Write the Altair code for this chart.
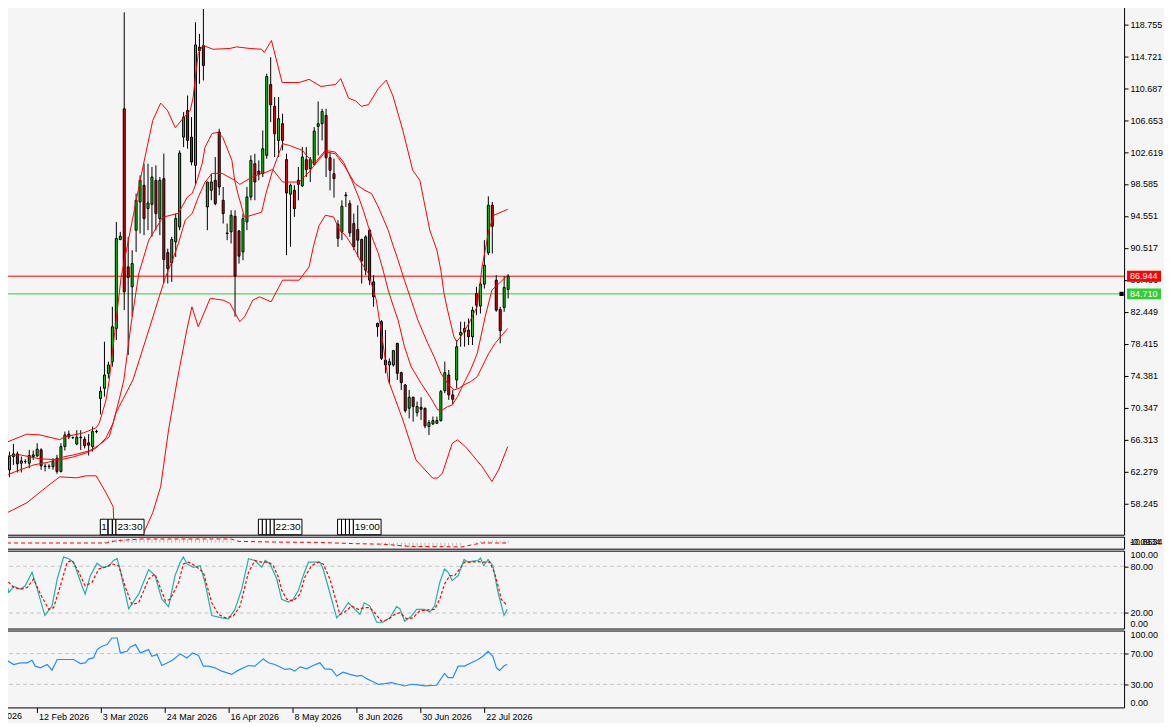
import altair as alt
import pandas as pd

FONT = "Liberation Sans"
BG = "#f5f5f5"
XDOM = [-0.625, 280.375]
W = 1124

# ---------------- candles (bar index 0..126) ----------------
opens = [62.49, 64.17, 64.51, 63.33, 63.54, 63.33, 64.17, 64.26, 65.01, 62.95,
         62.90, 62.90, 63.96, 62.28, 65.43, 67.00, 66.55, 65.75, 66.55, 66.36,
         65.90, 65.43, 67.35, 71.50, 72.79, 74.68, 76.15, 80.35, 91.57, 108.08,
         88.12, 85.60, 92.75, 96.32, 98.42, 95.48, 96.02, 99.05, 94.22, 99.26,
         89.93, 88.63, 91.28, 93.17, 104.51, 107.87, 104.51, 100.94, 115.86, 116.07,
         95.69, 97.79, 99.05, 105.14, 96.53, 92.40, 92.54, 94.51, 92.66, 90.01,
         93.80, 96.95, 101.15, 100.20, 99.89, 102.20, 111.15, 108.38, 104.09, 106.20,
         101.66, 97.29, 97.79, 99.05, 98.34, 101.66, 100.52, 101.07, 105.86, 106.20,
         107.25, 101.91, 99.89, 93.50, 92.54, 97.10, 96.11, 93.59, 92.83, 91.57,
         87.71, 92.75, 86.23, 80.98, 81.20, 76.36, 75.73, 75.73, 78.46, 74.76,
         73.21, 70.27, 71.65, 69.72, 70.40, 70.27, 67.95, 68.29, 68.37, 68.71,
         72.49, 74.47, 71.95, 73.84, 79.51, 79.93, 80.14, 79.30, 84.76, 83.17,
         85.94, 89.89, 95.90, 86.44, 82.74, 82.99, 85.27]
highs = [64.80, 65.77, 64.80, 64.17, 63.84, 65.01, 64.93, 65.85, 65.22, 63.30,
         63.20, 63.96, 64.38, 65.85, 67.32, 67.45, 66.70, 67.50, 67.50, 66.70,
         67.00, 67.95, 67.55, 73.00, 78.67, 76.15, 83.08, 93.80, 92.54, 120.27,
         91.91, 90.22, 97.37, 99.68, 101.15, 101.15, 100.73, 100.94, 99.47, 102.41,
         90.43, 91.91, 94.85, 102.83, 107.66, 109.76, 107.03, 119.01, 117.54, 120.69,
         98.84, 99.89, 101.99, 105.56, 98.21, 93.59, 95.27, 95.27, 92.75, 94.85,
         98.21, 102.20, 102.41, 101.57, 105.35, 112.50, 114.60, 109.56, 109.56, 107.46,
         102.41, 98.63, 98.42, 100.73, 103.25, 103.25, 101.99, 105.77, 109.01, 108.09,
         108.09, 102.62, 101.78, 94.01, 96.53, 97.58, 96.53, 94.85, 95.90, 91.70,
         92.12, 92.96, 87.07, 81.07, 81.40, 80.14, 76.57, 77.62, 78.54, 74.89,
         73.33, 72.58, 71.74, 71.11, 71.65, 70.35, 68.79, 69.22, 69.22, 72.58,
         76.15, 75.10, 72.58, 78.88, 81.19, 81.19, 81.61, 83.08, 85.60, 86.23,
         91.49, 97.03, 96.32, 87.07, 83.08, 86.95, 87.20]
lows = [61.57, 63.12, 62.16, 62.16, 63.25, 62.70, 63.75, 64.09, 62.49, 62.30,
        62.60, 62.50, 61.99, 62.16, 64.93, 66.36, 66.40, 65.60, 65.00, 65.20,
        64.30, 64.80, 67.10, 69.50, 71.74, 74.05, 75.52, 78.88, 91.49, 82.66,
        76.99, 81.82, 90.01, 92.33, 92.12, 92.75, 91.91, 92.75, 92.12, 86.02,
        86.02, 86.23, 89.38, 92.75, 103.25, 103.04, 100.94, 98.42, 111.24, 111.66,
        92.75, 96.53, 95.90, 97.16, 93.59, 91.49, 91.07, 81.82, 88.54, 88.96,
        92.75, 96.53, 96.53, 99.05, 99.47, 101.78, 106.40, 101.99, 101.99, 102.83,
        89.60, 90.65, 94.43, 96.53, 98.21, 99.47, 98.84, 100.94, 102.20, 104.09,
        99.47, 97.79, 96.87, 90.65, 91.49, 95.69, 91.91, 90.23, 89.39, 86.02,
        87.07, 85.82, 83.08, 79.30, 76.36, 74.68, 73.33, 75.52, 73.84, 72.58,
        69.72, 69.00, 68.58, 69.22, 68.79, 67.74, 66.90, 68.16, 68.37, 68.58,
        72.16, 71.32, 70.81, 72.79, 78.04, 78.04, 78.25, 78.25, 82.03, 82.24,
        85.39, 89.60, 89.81, 82.45, 78.46, 82.45, 84.13]
closes = [64.18, 64.51, 63.25, 63.63, 63.54, 64.30, 64.38, 65.10, 63.00, 62.90,
          62.95, 63.54, 62.28, 65.43, 66.90, 66.65, 66.55, 66.60, 66.60, 65.55,
          65.60, 67.32, 67.30, 72.40, 74.47, 75.73, 80.56, 91.70, 91.99, 84.97,
          86.78, 88.54, 96.53, 99.05, 94.22, 96.19, 99.47, 94.85, 99.05, 89.05,
          87.91, 91.57, 94.22, 102.49, 107.03, 104.09, 101.36, 116.15, 115.44, 113.55,
          98.84, 98.84, 96.11, 98.21, 94.85, 92.33, 94.64, 86.95, 89.47, 94.22,
          96.95, 101.57, 98.84, 99.80, 103.04, 112.16, 108.59, 104.93, 106.83, 104.09,
          97.45, 98.42, 95.48, 98.55, 101.99, 100.40, 101.66, 105.27, 106.20, 107.75,
          101.91, 100.31, 99.26, 91.70, 95.77, 97.20, 92.41, 90.65, 91.49, 88.88,
          91.91, 86.44, 84.34, 80.56, 76.57, 75.73, 76.15, 77.54, 74.68, 73.50,
          69.97, 71.65, 70.48, 70.48, 70.14, 68.04, 68.46, 68.71, 68.71, 72.37,
          74.76, 71.95, 71.40, 78.04, 79.84, 80.35, 79.30, 82.66, 83.29, 85.94,
          88.33, 95.90, 93.25, 82.66, 80.06, 85.52, 86.944]

# ---------------- price-panel lines (bar position, price) ----------------
upper_x = [-0.6, 4.4, 7.7, 12.7, 13.9, 18.7, 21.9, 22.7, 24.4, 25.2, 28.2, 31.2, 33.7, 36.2,
           38.2, 39.9, 41.9, 43.9, 45.7, 46.4, 46.9, 47.7, 48.9, 51.4, 55.7, 57.4, 60.7, 63.7,
           64.4, 66.2, 68.9, 73.2, 75.7, 78.7, 82.4, 83.7, 85.7, 87.4, 88.9, 90.7, 93.2, 95.2,
           96.9, 99.4, 101.9, 103.7, 106.2, 108.0, 109.0, 109.8, 110.7, 111.5, 112.3, 113.0,
           114.0, 114.8, 116.1, 117.3, 118.2, 119.4, 120.2, 121.1, 122.4, 125.9]
upper_p = [66.0, 67.0, 66.9, 66.3, 66.65, 67.16, 67.8, 68.4, 71.3, 73.8, 86.8, 94.4, 100.7, 106.6,
           108.8, 107.9, 105.7, 106.9, 107.9, 109.5, 111.7, 115.1, 116.1, 115.6, 115.7, 115.9, 115.7, 115.6,
           115.2, 116.7, 111.4, 111.4, 111.8, 110.9, 111.15, 111.9, 109.4, 109.1, 108.4, 108.6, 110.65, 111.7,
           109.7, 105.35, 100.3, 99.05, 92.75, 90.23, 87.70, 84.76, 82.66, 80.98, 79.30, 78.66,
           79.30, 79.93, 80.98, 82.24, 83.08, 88.08, 90.23, 92.75, 94.64, 95.39]

mid_x = [-0.6, 2.7, 6.2, 10.2, 13.7, 16.2, 20.2, 22.7, 25.2, 26.9, 31.2, 35.2, 39.4, 41.2, 42.7,
         44.4, 46.2, 47.7, 49.4, 51.2, 53.7, 56.9, 58.2, 61.2, 63.7, 64.8, 66.5, 69.0, 73.2, 75.7,
         77.7, 79.8, 82.3, 84.8, 87.3, 89.8, 91.5, 93.2, 95.7, 96.9, 98.2, 99.8, 101.5, 103.2,
         105.7, 107.3, 109.0, 110.7, 112.3, 113.6, 114.8, 116.5, 118.2, 121.1, 122.7, 125.9]
mid_p = [61.86, 62.49, 63.12, 63.50, 64.13, 64.38, 64.89, 65.64, 66.65, 69.68, 73.84, 80.14, 86.82, 88.96, 91.11,
         94.01, 94.89, 96.91, 98.80, 99.93, 99.93, 99.05, 98.54, 99.43, 99.93, 100.06, 100.44, 98.83, 98.83, 100.10,
         101.36, 102.62, 102.41, 100.73, 98.63, 97.79, 97.37, 95.68, 92.75, 90.86, 88.96, 86.44, 83.92, 81.40,
         78.46, 76.77, 74.68, 73.42, 72.58, 72.79, 73.21, 73.62, 74.25, 77.20, 78.46, 80.35]

fast_x = [-0.6, 2.7, 7.7, 12.7, 16.2, 19.4, 21.9, 24.4, 26.2, 27.7, 28.9, 30.7, 32.7, 35.2, 38.7,
          42.7, 44.9, 46.2, 47.4, 48.7, 49.4, 51.2, 52.7, 53.9, 56.2, 56.9, 57.7, 59.4, 63.7, 64.8,
          66.5, 69.0, 70.7, 74.0, 76.9, 77.7, 79.8, 82.3, 84.4, 86.5, 88.2, 89.4, 90.7, 91.9, 93.2,
          94.4, 95.7, 96.9, 98.2, 99.8, 101.5, 104.0, 106.5, 108.2, 109.4, 110.7, 111.9, 113.2,
          114.8, 116.5, 118.2, 120.2, 121.9, 125.9]
fast_p = [64.26, 64.38, 63.88, 63.75, 64.13, 64.63, 65.26, 66.53, 68.42, 71.32, 73.84, 80.77, 87.33, 91.49, 94.38,
          94.89, 96.91, 97.41, 99.05, 101.19, 103.21, 104.97, 105.10, 104.47, 101.57, 99.05, 97.41, 94.38, 95.02, 97.37,
          100.31, 103.68, 103.46, 102.83, 101.15, 101.57, 102.83, 102.62, 101.36, 99.05, 96.94, 95.27, 93.16, 91.49, 89.81,
          87.70, 85.18, 83.29, 81.40, 78.04, 75.51, 73.42, 71.53, 70.06, 70.06, 70.47, 70.69, 71.73,
          73.42, 75.10, 77.20, 81.82, 85.18, 87.07]

lower_x = [-0.6, 4.4, 9.4, 12.7, 16.9, 19.4, 21.9, 24.4, 26.2, 26.5, 28.5, 30.5, 32.5, 33.7, 36.2,
           38.2, 40.2, 42.4, 44.8, 46.1, 47.7, 50.7, 54.0, 55.7, 58.2, 59.4, 61.5, 63.2, 66.1, 69.0,
           73.2, 75.7, 76.9, 78.2, 79.8, 81.9, 83.2, 85.2, 87.3, 89.0, 90.7, 92.7, 94.0, 95.7, 99.4,
           102.7, 106.9, 108.2, 109.4, 111.9, 113.2, 115.2, 119.4, 121.9, 123.6, 125.9]
lower_p = [57.07, 58.33, 60.35, 61.61, 61.48, 61.74, 61.74, 59.59, 57.83, 54.55, 52.0, 51.3, 52.3, 54.30, 57.07,
           60.35, 67.53, 73.84, 80.14, 83.08, 80.56, 84.14, 83.92, 83.51, 81.19, 81.82, 83.92, 84.34, 83.71, 86.44,
           86.44, 88.12, 90.9, 93.3, 94.64, 94.42, 92.96, 91.90, 90.23, 88.55, 87.29, 83.92, 79.72, 73.84, 68.79,
           63.75, 61.45, 61.45, 62.08, 65.86, 66.27, 65.43, 62.91, 61.02, 62.49, 65.43]

bid_price = 86.944
ask_price = 84.710
price_ticks = [58.245, 62.279, 66.313, 70.347, 74.381, 78.415, 82.449, 86.483,
               90.517, 94.551, 98.585, 102.619, 106.653, 110.687, 114.721, 118.755]

# event markers (start/end bar position, label)
ev_start = [22.95, 24.95, 26.05, 26.9, 62.9, 63.9, 64.9, 65.9, 66.9, 82.9, 83.9, 84.9, 85.9, 86.9]
ev_end = [24.85, 25.95, 26.9, 34.0, 63.9, 64.9, 65.9, 66.9, 73.9, 83.9, 84.9, 85.9, 86.9, 93.9]
ev_text = ["1", "", "", "23:30", "", "", "", "", "22:30", "", "", "", "", "19:00"]

# ---------------- thin oscillator panel ----------------
osc_x = [-0.6, 24.4, 27.0, 33.0, 56.0, 58.0, 69.4, 77.7, 87.7, 94.4, 101.0, 114.4, 117.0, 119.4, 126.0]
osc_v = [-0.3, -0.3, 2.0, 3.7, 3.7, 1.3, 0.5, 0.3, -1.0, -1.5, -3.7, -4.2, -2.0, -0.3, -0.3]
hist_i = list(range(24, 57)) + list(range(94, 115)) + list(range(118, 127))
hist_v = [1.5, 2.5, 3.0, 3.5, 4.0, 4.0, 4.5, 4.5, 4.0, 4.0, 4.0, 4.5, 4.0, 4.0, 3.5, 3.5, 3.5,
          3.0, 3.5, 3.5, 4.0, 4.0, 4.0, 3.5, 3.5, 3.0, 3.0, 3.0, 3.0, 2.5, 2.5, 2.0, 2.0,
          -1.5, -2.0, -2.5, -3.0, -3.5, -4.0, -4.0, -4.5, -4.5, -4.5, -5.0, -5.0, -5.0, -4.5,
          -4.5, -4.0, -4.0, -3.5, -3.5, -3.0, -2.5,
          1.0, 1.5, 2.0, 2.0, 2.5, 2.5, 2.0, 2.0, 2.0]
osc_labels = ["10.6534", "-0.0934"]

# ---------------- stochastic ----------------
k_x = [-0.6, 1.1, 2.3, 4.0, 5.2, 6.9, 8.2, 10.1, 11.9, 13.2, 14.8, 16.1, 17.3, 19.4, 20.2, 21.5,
       23.2, 24.4, 26.1, 27.3, 28.2, 29.0, 31.1, 33.6, 36.1, 37.7, 39.4, 41.1, 42.7, 44.0, 44.8,
       45.7, 47.3, 49.0, 50.2, 51.9, 54.4, 56.1, 57.7, 59.4, 61.1, 62.7, 64.4, 65.3, 66.5, 68.2,
       69.4, 71.1, 72.3, 73.6, 74.8, 76.1, 79.0, 79.8, 81.1, 83.2, 84.4, 86.1, 87.3, 89.0, 90.1,
       91.5, 93.2, 94.8, 96.5, 98.2, 99.0, 100.2, 101.9, 103.2, 105.2, 106.5, 107.7, 109.0, 110.2,
       111.1, 112.1, 113.6, 115.1, 116.1, 117.3, 118.6, 119.2, 120.0, 121.1, 122.3, 123.6, 125.1, 125.9]
k_v = [78.7, 46.3, 54.0, 50.6, 54.9, 72.2, 50.6, 16.8, 28.9, 63.6, 91.8, 89.7, 85.2, 54.9, 44.1, 67.9,
       83.9, 78.7, 80.0, 87.4, 89.7, 74.4, 25.5, 44.1, 75.7, 67.9, 37.6, 28.1, 67.9, 85.2, 91.8,
       83.0, 78.7, 80.8, 59.2, 16.8, 13.8, 12.5, 24.6, 50.6, 89.7, 87.4, 78.7, 87.4, 83.0, 63.6,
       37.6, 34.1, 37.6, 48.9, 67.9, 85.2, 85.2, 76.5, 52.7, 13.8, 20.3, 33.1, 26.8, 18.1, 33.1,
       28.9, 8.1, 8.1, 13.8, 28.1, 25.5, 9.4, 15.9, 24.6, 24.6, 21.2, 28.9, 59.2, 76.5,
       72.2, 61.5, 67.9, 88.7, 85.2, 86.5, 87.4, 90.5, 80.8, 88.7, 80.8, 46.3, 16.8, 24.6]
d_x = [-0.6, 1.1, 2.3, 4.0, 5.7, 7.3, 9.0, 11.1, 12.3, 14.0, 15.7, 16.9, 18.2, 20.2, 21.9, 23.6,
       25.2, 26.9, 28.6, 30.3, 31.9, 33.6, 36.1, 37.7, 40.3, 41.5, 43.6, 44.8, 46.1, 47.7, 49.8,
       51.9, 53.6, 55.3, 57.3, 59.0, 61.1, 62.7, 64.4, 66.1, 67.3, 68.6, 69.4,
       70.7, 72.3, 74.0, 75.2, 76.9, 78.6, 79.8, 81.5, 82.7, 84.0, 85.2, 86.9, 88.6, 90.2, 91.5,
       92.7, 94.4, 96.1, 97.7, 99.0, 100.7, 102.3, 104.0, 106.1, 107.7, 109.0, 110.2, 111.5, 112.7,
       114.0, 115.2, 116.5, 118.2, 119.8, 121.5, 122.7, 123.6, 124.4, 125.6]
d_v = [77.4, 59.2, 52.7, 50.6, 52.7, 63.6, 44.1, 24.6, 26.8, 54.9, 85.2, 87.4, 76.5, 54.9, 59.2, 76.5,
       78.7, 83.0, 80.8, 52.7, 30.9, 33.1, 63.6, 69.9, 35.4, 37.6, 59.2, 83.0, 85.2, 80.8, 72.2,
       33.1, 18.1, 13.8, 15.9, 28.9, 72.2, 87.4, 85.2, 85.2, 80.8, 65.8, 49.5,
       37.6, 35.4, 44.1, 65.8, 80.8, 85.2, 83.0, 63.6, 41.9, 18.1, 21.2, 28.9, 24.6, 26.8, 26.8,
       20.3, 9.4, 11.6, 18.1, 20.3, 12.5, 13.8, 22.7, 23.9, 24.6, 37.6, 57.1, 67.9, 67.9,
       76.5, 85.2, 85.2, 86.1, 85.2, 85.2, 72.2, 54.9, 37.6, 30.9]

# ---------------- RSI ----------------
rsi_x = [-0.6, 0.7, 2.3, 4.0, 5.7, 6.9, 7.7, 9.0, 10.7, 11.9, 13.2, 14.8, 17.3, 19.0, 20.2, 21.1,
         22.3, 23.2, 24.4, 25.7, 26.9, 28.2, 29.0, 30.7, 31.5, 32.8, 34.0, 36.1, 36.9, 38.2, 39.4,
         41.1, 42.3, 44.0, 45.7, 47.1, 48.6, 49.8, 51.1, 52.7, 54.4, 56.9, 58.6, 61.1, 62.7, 64.8,
         66.1, 67.7, 69.4, 70.2, 71.5, 72.7, 74.0, 75.7, 77.3, 79.0, 80.2, 81.9, 83.2, 84.8, 86.5,
         88.2, 89.4, 90.7, 91.9, 93.6, 95.2, 96.9, 98.6, 100.2, 101.9, 103.6, 105.2, 108.2, 110.2,
         111.1, 112.3, 113.6, 115.2, 116.9, 118.6, 119.8, 121.1, 122.3, 123.2, 124.0, 125.2, 125.9]
rsi_v = [58.0, 61.0, 55.8, 58.0, 58.0, 61.4, 53.7, 51.5, 55.8, 48.5, 62.3, 62.3, 62.3, 57.1, 58.0, 63.1,
         64.4, 75.2, 79.5, 81.7, 90.3, 90.3, 70.9, 73.0, 78.6, 81.7, 70.9, 75.2, 66.6, 68.7, 54.5,
         58.8, 62.3, 69.6, 64.4, 70.9, 67.5, 53.7, 53.7, 51.5, 47.2, 42.9, 48.5, 54.5, 53.7, 63.1,
         58.0, 55.8, 51.5, 49.4, 50.2, 47.2, 52.8, 50.2, 54.5, 58.0, 50.2, 49.4, 40.8, 45.9, 42.9,
         40.8, 41.7, 37.4, 34.4, 30.1, 31.0, 32.3, 30.1, 27.9, 30.1, 29.2, 27.9, 28.8, 44.2,
         38.7, 38.7, 53.7, 53.7, 58.0, 62.3, 66.6, 73.0, 66.6, 51.5, 48.0, 54.5, 55.8]

date_ticks = [8, 24, 40, 56, 72, 88, 104, 120]
date_labels = ["12 Feb 2026", "3 Mar 2026", "24 Mar 2026", "16 Apr 2026",
               "8 May 2026", "8 Jun 2026", "30 Jun 2026", "22 Jul 2026"]

# ======================================================================
xs = alt.Scale(domain=XDOM, nice=False, zero=False)
ys_main = alt.Scale(domain=[54.30, 121.74], nice=False, zero=False)


def X(field):
    return alt.X(field, scale=xs, axis=None, title=None)


price_axis = alt.Axis(orient="right", values=price_ticks, format=".3f", title=None, grid=False,
                      domain=False, ticks=True, tickSize=4, tickColor="black", tickWidth=1,
                      labelColor="black", labelFont=FONT, labelFontSize=9, labelPadding=2,
                      labelFlush=False, labelOverlap=False)


def YM(field):
    return alt.Y(field, scale=ys_main, axis=price_axis, title=None)


cdf = pd.DataFrame({"i": list(range(len(opens))), "o": opens, "h": highs, "l": lows, "c": closes})
up_df = cdf[cdf["c"] >= cdf["o"]]
dn_df = cdf[cdf["c"] < cdf["o"]]

hl_red = alt.Chart(pd.DataFrame({"p": [bid_price]})).mark_rule(color="#ff0000", strokeWidth=1).encode(y=YM("p:Q"))
hl_green = alt.Chart(pd.DataFrame({"p": [ask_price]})).mark_rule(color="#32cd32", strokeWidth=1).encode(y=YM("p:Q"))

wicks = alt.Chart(cdf).mark_rule(color="black", strokeWidth=1).encode(x=X("i:Q"), y=YM("l:Q"), y2="h:Q")
up_bodies = alt.Chart(up_df).mark_bar(width=2, fill="#00e000", stroke="black", strokeWidth=1).encode(
    x=X("i:Q"), y=YM("o:Q"), y2="c:Q")
dn_bodies = alt.Chart(dn_df).mark_bar(width=2, fill="#f00000", stroke="black", strokeWidth=1).encode(
    x=X("i:Q"), y=YM("o:Q"), y2="c:Q")

bands = pd.concat([
    pd.DataFrame({"i": upper_x, "p": upper_p, "band": "upper"}),
    pd.DataFrame({"i": mid_x, "p": mid_p, "band": "mid"}),
    pd.DataFrame({"i": fast_x, "p": fast_p, "band": "fast"}),
    pd.DataFrame({"i": lower_x, "p": lower_p, "band": "lower"}),
])
band_lines = alt.Chart(bands).mark_line(color="#ff0000", strokeWidth=1, clip=True).encode(
    x=X("i:Q"), y=YM("p:Q"), detail="band:N")

ev = pd.DataFrame({"s": ev_start, "e": ev_end, "t": ev_text})
ev["m"] = (ev["s"] + ev["e"]) / 2
ev_rect = alt.Chart(ev).mark_rect(fill="#ffffff", stroke="black", strokeWidth=1).encode(
    x=X("s:Q"), x2="e:Q", y=alt.value(519.5), y2=alt.value(535))
ev_txt = alt.Chart(ev).mark_text(font=FONT, fontSize=10, color="black", baseline="middle").encode(
    x=X("m:Q"), y=alt.value(527.5), text="t:N")

pb = pd.DataFrame({"p": [bid_price, ask_price], "t": [f"{bid_price:.3f}", f"{ask_price:.3f}"]})
pb["hi"] = pb["p"] + 0.69
pb["lo"] = pb["p"] - 0.69
box_red = alt.Chart(pb.iloc[[0]]).mark_rect(fill="#ff0000").encode(
    x=alt.value(1127), x2=alt.value(1161), y=YM("hi:Q"), y2="lo:Q")
box_green = alt.Chart(pb.iloc[[1]]).mark_rect(fill="#32cd32").encode(
    x=alt.value(1127), x2=alt.value(1161), y=YM("hi:Q"), y2="lo:Q")
box_txt = alt.Chart(pb).mark_text(font=FONT, fontSize=9, color="white", align="left", baseline="middle").encode(
    x=alt.value(1130), y=YM("p:Q"), text="t:N")
ask_sq = alt.Chart(pd.DataFrame({"p": [ask_price]})).mark_square(size=18, color="black", opacity=1).encode(
    x=alt.value(1121.5), y=YM("p:Q"))

main = alt.layer(hl_red, hl_green, wicks, up_bodies, dn_bodies, band_lines, ev_rect, ev_txt,
                 box_red, box_green, box_txt, ask_sq).properties(width=W, height=535)

# ---------------- thin oscillator ----------------
ys1 = alt.Scale(domain=[-6, 6], nice=False, zero=False)
hdf = pd.DataFrame({"i": hist_i, "v": hist_v})
odf = pd.DataFrame({"i": osc_x, "v": osc_v})
hist = alt.Chart(hdf).mark_bar(width=1, color="#bdbdbd").encode(
    x=X("i:Q"), y=alt.Y("v:Q", scale=ys1, axis=None), y2=alt.datum(0))
osc_line = alt.Chart(odf).mark_line(color="#ff0000", strokeWidth=1, strokeDash=[4, 3]).encode(
    x=X("i:Q"), y=alt.Y("v:Q", scale=ys1, axis=None))
osc_txt = alt.Chart(pd.DataFrame({"t": osc_labels})).mark_text(
    font=FONT, fontSize=9, color="black", align="left", baseline="middle").encode(
    x=alt.value(1130), y=alt.value(5.5), text="t:N")
sub1 = alt.layer(hist, osc_line, osc_txt).properties(width=W, height=12)


# ---------------- stochastic ----------------
def level_axis(vals, edge_a, edge_b):
    return alt.Axis(orient="right", values=vals, format=".2f", title=None, grid=False, domain=False,
                    ticks=True, tickSize=4, tickColor="black",
                    tickOpacity={"condition": {"test": f"datum.value == {edge_a} || datum.value == {edge_b}",
                                               "value": 0}, "value": 1},
                    labelColor="black", labelFont=FONT, labelFontSize=9, labelPadding=2,
                    labelFlush=True, labelOverlap=False)


ys01 = alt.Scale(domain=[0, 100], nice=False, zero=False)
st_axis = level_axis([0, 20, 80, 100], 0, 100)
st_lv = alt.Chart(pd.DataFrame({"v": [20, 80]})).mark_rule(color="#c4c4c4", strokeWidth=1, strokeDash=[4, 3]).encode(
    y=alt.Y("v:Q", scale=ys01, axis=st_axis, title=None))
k_line = alt.Chart(pd.DataFrame({"i": k_x, "v": k_v})).mark_line(color="#20b2aa", strokeWidth=1.2).encode(
    x=X("i:Q"), y=alt.Y("v:Q", scale=ys01, axis=st_axis, title=None))
d_line = alt.Chart(pd.DataFrame({"i": d_x, "v": d_v})).mark_line(color="#ff0000", strokeWidth=1.2,
                                                                  strokeDash=[3, 2]).encode(
    x=X("i:Q"), y=alt.Y("v:Q", scale=ys01, axis=st_axis, title=None))
sub2 = alt.layer(st_lv, k_line, d_line).properties(width=W, height=78)

# ---------------- RSI ----------------
rsi_axis = level_axis([0, 30, 70, 100], 0, 100)
expr = "''"
for v, lab in reversed(list(zip(date_ticks, date_labels))):
    expr = f"datum.value == {v} ? '{lab}' : ({expr})"
date_axis = alt.Axis(orient="bottom", values=date_ticks, labelExpr=expr, title=None, grid=False,
                     domain=False, ticks=True, tickSize=5, tickColor="black", labelColor="black",
                     labelFont=FONT, labelFontSize=9, labelAlign="left", labelBaseline="top",
                     labelPadding=0, labelOffset=2, labelFlush=False, labelOverlap=False)
rsi_lv = alt.Chart(pd.DataFrame({"v": [30, 70]})).mark_rule(color="#c4c4c4", strokeWidth=1, strokeDash=[4, 3]).encode(
    y=alt.Y("v:Q", scale=ys01, axis=rsi_axis, title=None))
rsi_line = alt.Chart(pd.DataFrame({"i": rsi_x, "v": rsi_v})).mark_line(color="#1e90ff", strokeWidth=1.2).encode(
    x=alt.X("i:Q", scale=xs, axis=date_axis, title=None),
    y=alt.Y("v:Q", scale=ys01, axis=rsi_axis, title=None))
year_txt = alt.Chart(pd.DataFrame({"t": ["2026"]})).mark_text(
    font=FONT, fontSize=9, color="black", align="left", baseline="top").encode(
    x=alt.value(0), y=alt.value(82), text="t:N")
sub3 = alt.layer(rsi_lv, rsi_line, year_txt).properties(width=W, height=77)

chart = alt.vconcat(main, sub1, sub2, sub3, spacing=2, bounds="flush").properties(
    padding={"left": -9, "top": -9, "right": 0, "bottom": 0},
    background=BG,
).configure_view(stroke="black", strokeWidth=1).configure_concat(spacing=2)

chart.save("out.html", embed_options={"renderer": "svg", "actions": False})
